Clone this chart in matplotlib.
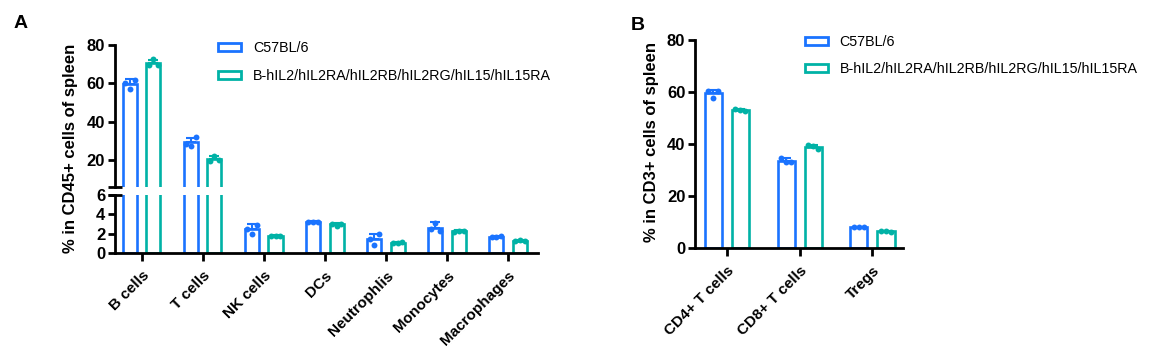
import numpy as np
import matplotlib
matplotlib.use('Agg')
import matplotlib.pyplot as plt
from matplotlib.patches import Patch

plt.rcParams['font.family'] = ['Liberation Sans', 'DejaVu Sans']
plt.rcParams['font.weight'] = 'bold'

BLUE = '#1a73ff'
GREEN = '#00b2a6'

group_names = ['C57BL/6', 'B-hIL2/hIL2RA/hIL2RB/hIL2RG/hIL15/hIL15RA']

# --- Panel A: % in CD45+ cells of spleen ---
cells_a = ['B cells', 'T cells', 'NK cells', 'DCs', 'Neutrophlis', 'Monocytes', 'Macrophages']
wt_mean_a = [59.5, 29.2, 2.45, 3.24, 1.41, 2.62, 1.69]
wt_sd_a = [2.9, 2.4, 0.55, 0.03, 0.6, 0.55, 0.05]
wt_dots_a = [[60.0, 56.8, 61.8], [28.5, 27.0, 32.1], [2.5, 1.95, 2.9], [3.22, 3.25, 3.22],
             [1.4, 0.85, 1.95], [2.5, 3.1, 2.3], [1.7, 1.65, 1.72]]
hu_mean_a = [70.4, 20.3, 1.79, 2.97, 1.07, 2.24, 1.27]
hu_sd_a = [1.9, 1.6, 0.05, 0.15, 0.08, 0.12, 0.08]
hu_dots_a = [[69.5, 72.5, 69.8], [19.5, 21.9, 19.8], [1.75, 1.8, 1.8], [2.95, 2.8, 2.95],
             [1.0, 1.08, 1.1], [2.15, 2.25, 2.3], [1.25, 1.3, 1.25]]

# --- Panel B: % in CD3+ cells of spleen ---
cells_b = ['CD4+ T cells', 'CD8+ T cells', 'Tregs']
wt_mean_b = [59.5, 33.6, 8.06]
wt_sd_b = [1.3, 0.9, 0.1]
wt_dots_b = [[60.5, 57.9, 60.5], [34.6, 33.3, 33.0], [8.1, 8.0, 8.1]]
hu_mean_b = [53.1, 38.8, 6.5]
hu_sd_b = [0.5, 1.0, 0.3]
hu_dots_b = [[53.4, 53.0, 52.6], [39.5, 39.3, 38.0], [6.7, 6.6, 6.2]]


def draw_group(ax, means, sds, dots, color, offset, width, jitter):
    n = len(means)
    x = np.arange(n) + offset
    ax.bar(x, means, width, facecolor='white', edgecolor=color, linewidth=1.9, zorder=2)
    ax.errorbar(x, means, yerr=[np.zeros(n), sds], fmt='none', ecolor=color,
                elinewidth=1.5, capsize=3.5, capthick=1.5, zorder=3)
    for i in range(n):
        ax.scatter(x[i] + np.array([-jitter, 0, jitter]), dots[i], s=18, color=color,
                   linewidths=0, zorder=4)


def style_axis(ax):
    for side in ['top', 'right']:
        ax.spines[side].set_visible(False)
    for side in ['left', 'bottom']:
        ax.spines[side].set_linewidth(2.0)
    ax.tick_params(axis='y', width=2.0, length=5, labelsize=12, pad=2)
    ax.tick_params(axis='x', width=2.0, length=6, labelsize=11, pad=5)


fig = plt.figure(figsize=(11.53, 3.54), dpi=100)

# broken y axis for panel A
ax_top = fig.add_axes([0.0997, 0.4726, 0.3669, 0.4003])
ax_bot = fig.add_axes([0.0997, 0.2853, 0.3669, 0.1638])
for ax in (ax_top, ax_bot):
    draw_group(ax, wt_mean_a, wt_sd_a, wt_dots_a, BLUE, -0.19, 0.23, 0.08)
    draw_group(ax, hu_mean_a, hu_sd_a, hu_dots_a, GREEN, 0.19, 0.23, 0.08)
    style_axis(ax)
    ax.set_xlim(-0.44, 6.49)

ax_top.set_ylim(6, 80)
ax_top.set_yticks([20, 40, 60, 80])
ax_top.spines['bottom'].set_visible(False)
ax_top.tick_params(axis='x', bottom=False, labelbottom=False)
ax_bot.set_ylim(0, 6)
ax_bot.set_yticks([0, 2, 4, 6])
ax_bot.set_xticks(range(len(cells_a)))
ax_bot.set_xticklabels(cells_a, rotation=45, ha='right', rotation_mode='anchor')

# break marks
ax_top.plot([0], [0], marker='_', ms=10, mew=2.0, color='black', transform=ax_top.transAxes, clip_on=False)
ax_bot.plot([0], [1], marker='_', ms=10, mew=2.0, color='black', transform=ax_bot.transAxes, clip_on=False)

fig.text(0.061, 0.58, '% in CD45+ cells of spleen', rotation=90, ha='center', va='center', fontsize=12)
fig.text(0.018, 0.934, 'A', ha='center', va='center', fontsize=14)

handles = [Patch(facecolor='white', edgecolor=BLUE, linewidth=2),
           Patch(facecolor='white', edgecolor=GREEN, linewidth=2)]
fig.legend(handles, group_names, loc='upper left', bbox_to_anchor=(0.189, 0.885), frameon=False,
           prop={'weight': 'normal', 'size': 10.3}, handlelength=1.6, handleheight=0.5,
           handletextpad=0.84, labelspacing=1.0, borderpad=0, borderaxespad=0)

# panel B
ax_b = fig.add_axes([0.6028, 0.2986, 0.1804, 0.5884])
draw_group(ax_b, wt_mean_b, wt_sd_b, wt_dots_b, BLUE, -0.186, 0.235, 0.07)
draw_group(ax_b, hu_mean_b, hu_sd_b, hu_dots_b, GREEN, 0.186, 0.235, 0.07)
style_axis(ax_b)
ax_b.set_xlim(-0.436, 2.42)
ax_b.set_ylim(0, 80)
ax_b.set_yticks([0, 20, 40, 60, 80])
ax_b.set_xticks(range(len(cells_b)))
ax_b.set_xticklabels(cells_b, rotation=45, ha='right', rotation_mode='anchor')

fig.text(0.565, 0.598, '% in CD3+ cells of spleen', rotation=90, ha='center', va='center', fontsize=12)
fig.text(0.553, 0.928, 'B', ha='center', va='center', fontsize=14)
fig.legend(handles, group_names, loc='upper left', bbox_to_anchor=(0.698, 0.901), frameon=False,
           prop={'weight': 'normal', 'size': 10.3}, handlelength=1.6, handleheight=0.5,
           handletextpad=0.84, labelspacing=0.92, borderpad=0, borderaxespad=0)

fig.savefig('out.png', dpi=100)
